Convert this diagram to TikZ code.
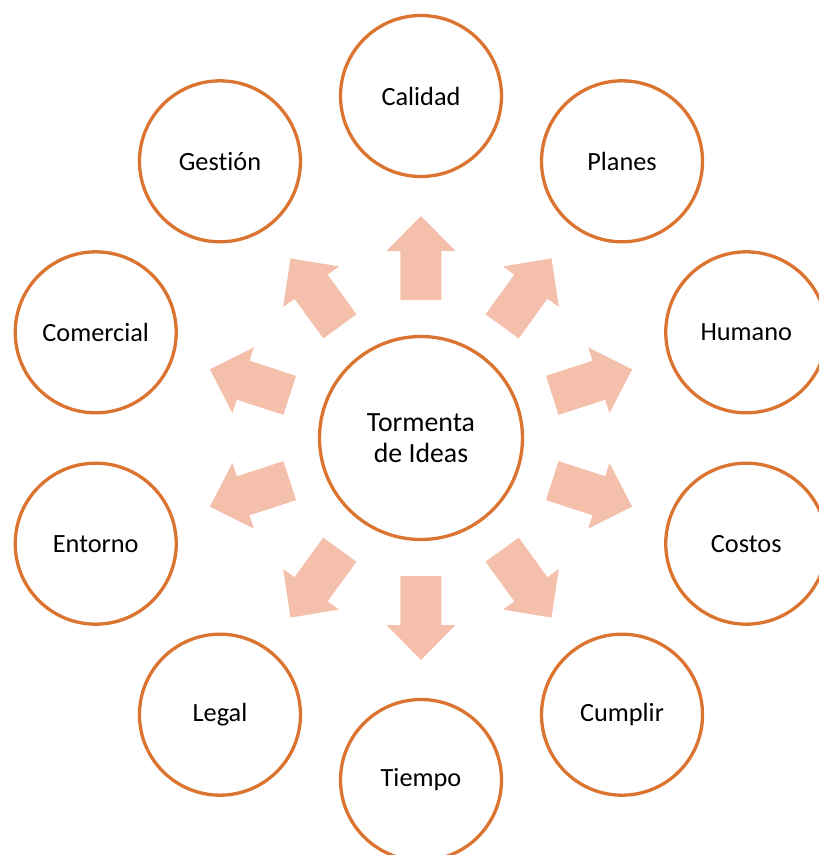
\documentclass[tikz,border=0pt]{standalone}
\usepackage{fontspec}
\setmainfont{Carlito}[Ligatures=NoCommon]
\definecolor{ringorange}{HTML}{DB7431}
\definecolor{arrowpink}{HTML}{F4BFAB}
\begin{document}
\begin{tikzpicture}[x=1pt,y=1pt,
  bubble/.style={circle,draw=ringorange,line width=3.3pt,fill=white,
    minimum size=161pt,inner sep=0pt,align=center,
    font=\fontsize{26.3}{31}\selectfont},
  hub/.style={bubble,minimum size=203pt,font=\fontsize{27.8}{30.5}\selectfont},
  blockarrow/.style={fill=arrowpink,draw=none}]
  % page frame; the outer ring runs slightly past the right and bottom edges
  \path[use as bounding box] (-421,-417) rectangle (398,438);
  \clip (-421,-417) rectangle (398,438);

  \node[hub] (hub) at (0,0) {Tormenta\\de Ideas};

  % block arrows pointing from the hub towards each topic
  \foreach \ang in {90,54,18,-18,-54,-90,-126,-162,162,126}{
    \begin{scope}[rotate=\ang]
      \fill[blockarrow] (138,-20.5) -- (187,-20.5) -- (187,-34.5) -- (222,0)
        -- (187,34.5) -- (187,20.5) -- (138,20.5) -- cycle;
    \end{scope}
  }

  % topics around the hub
  \node[bubble] (calidad)   at (90:342)   {Calidad};
  \node[bubble] (planes)    at (54:342)   {Planes};
  \node[bubble] (humano)    at (18:342)   {Humano};
  \node[bubble] (costos)    at (-18:342)  {Costos};
  \node[bubble] (cumplir)   at (-54:342)  {Cumplir};
  \node[bubble] (tiempo)    at (-90:342)  {Tiempo};
  \node[bubble] (legal)     at (-126:342) {Legal};
  \node[bubble] (entorno)   at (-162:342) {Entorno};
  \node[bubble] (comercial) at (162:342)  {Comercial};
  \node[bubble] (gestion)   at (126:342)  {Gestión};
\end{tikzpicture}
\end{document}
